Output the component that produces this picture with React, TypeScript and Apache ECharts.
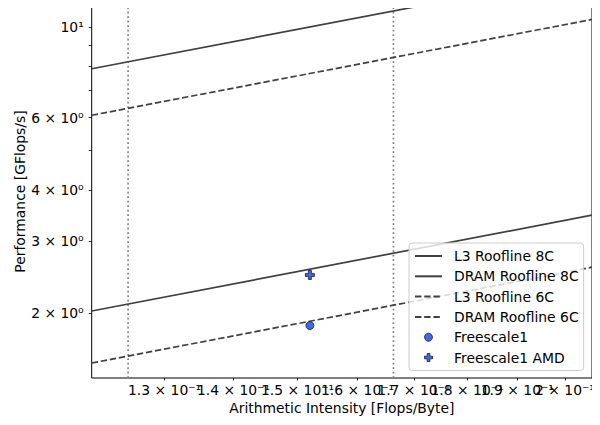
import React, { useEffect, useRef } from "react";
import * as echarts from "echarts";

// ---- data ----
const xRange = [0.1202, 0.2059];
const yRange = [1.39, 11.3];
const xTickValues = [0.13, 0.14, 0.15, 0.16, 0.17, 0.18, 0.19, 0.2];
const yTickValues = [2, 3, 4, 5, 6, 7, 8, 9, 10];
const yLabelValues = [2, 3, 4, 6, 10];
const rooflineNames = ["L3 Roofline 8C", "DRAM Roofline 8C", "L3 Roofline 6C", "DRAM Roofline 6C"];
const rooflineBandwidth = [65.7, 16.85, 50.6, 12.58];
const rooflineDashed = [false, false, true, true];
const coreBoundaries = [0.125, 0.1663];
const pointNames = ["Freescale1", "Freescale1 AMD"];
const pointX = [0.152, 0.152];
const pointY = [1.866, 2.48];

const FONT = "DejaVu Sans";
const FS = 13.9;
const LINE_COLOR = "#404040";
const POINT_COLOR = "#4169e1";
const POINT_EDGE = "#1a1a3a";
const PLUS_PATH = "path://M-1,-3H1V-1H3V1H1V3H-1V1H-3V-1H-1Z";

const lg = (v: number) => Math.log10(v);

export default function App() {
  const ref = useRef<HTMLDivElement>(null);
  useEffect(() => {
    if (!ref.current) return;
    const chart = echarts.init(ref.current, null, { renderer: "svg" });
    const x0 = lg(xRange[0]);
    const x1 = lg(xRange[1]);
    const y0 = lg(yRange[0]);
    const y1 = lg(yRange[1]);

    const series: any[] = [];
    coreBoundaries.forEach((b, i) => {
      series.push({
        name: "boundary" + i,
        type: "line",
        symbol: "none",
        silent: true,
        data: [
          [lg(b), y0],
          [lg(b), y1],
        ],
        lineStyle: { color: "#808080", width: 1.7, type: [1.7, 2.8] },
        z: 1,
      });
    });
    rooflineNames.forEach((n, i) => {
      const bw = rooflineBandwidth[i];
      series.push({
        name: n,
        type: "line",
        symbol: "none",
        data: [
          [x0, lg(bw * xRange[0])],
          [x1, lg(bw * xRange[1])],
        ],
        lineStyle: {
          color: LINE_COLOR,
          width: 1.7,
          type: rooflineDashed[i] ? [6.4, 2.8] : "solid",
        },
        itemStyle: { color: LINE_COLOR },
        z: 2,
      });
    });
    // measured points: marker-only line series (no connecting line)
    pointNames.forEach((n, i) => {
      series.push({
        name: n,
        type: "line",
        symbol: i === 0 ? "circle" : PLUS_PATH,
        symbolSize: i === 0 ? 8 : 9,
        showSymbol: true,
        data: [[lg(pointX[i]), lg(pointY[i])]],
        lineStyle: { width: 0, opacity: 0, color: "rgba(0,0,0,0)" },
        itemStyle: { color: POINT_COLOR, borderColor: POINT_EDGE, borderWidth: 0.8, opacity: 1 },
        z: 3,
      });
    });

    const xFmt = (v: number) => {
      const m = Math.round(Math.pow(10, v) * 1000) / 100;
      return `${m} × 10⁻¹`;
    };
    const yFmt = (v: number) => {
      const r = Math.round(Math.pow(10, v) * 1000) / 1000;
      if (Math.abs(r - 10) < 1e-6) return "10¹";
      return `${r} × 10⁰`;
    };

    const xLabelsA = xTickValues.filter((_, i) => i % 2 === 0).map(lg);
    const xLabelsB = xTickValues.filter((_, i) => i % 2 === 1).map(lg);
    const xLabelBase = {
      formatter: xFmt,
      fontFamily: FONT,
      fontSize: FS,
      color: "#000",
      margin: 5,
      showMinLabel: true,
      showMaxLabel: true,
      hideOverlap: false,
    };

    const hidden = { color: "rgba(0,0,0,0)", borderColor: "rgba(0,0,0,0)", borderWidth: 0 };
    const legendData = [
      ...rooflineNames.map((n) => ({ name: n, itemStyle: hidden })),
      ...pointNames.map((n) => ({
        name: n,
        itemStyle: { color: POINT_COLOR, borderColor: POINT_EDGE, borderWidth: 0.8 },
        lineStyle: { width: 0, opacity: 0, color: "rgba(0,0,0,0)" },
      })),
    ];

    chart.setOption({
      animation: false,
      textStyle: { fontFamily: FONT },
      grid: {
        left: 91.7,
        right: 8,
        top: 5,
        bottom: 47,
        show: true,
        borderColor: "#000",
        borderWidth: 1,
        backgroundColor: "transparent",
        outerBoundsMode: "none",
        containLabel: false,
      },
      xAxis: [
        {
          type: "value",
          min: x0,
          max: x1,
          name: "Arithmetic Intensity [Flops/Byte]",
          nameLocation: "middle",
          nameGap: 23,
          nameMoveOverlap: false,
          nameTextStyle: { fontFamily: FONT, fontSize: FS, color: "#000" },
          axisLine: { show: false },
          splitLine: { show: false },
          axisTick: {
            show: true,
            length: 2.5,
            customValues: xTickValues.map(lg),
            lineStyle: { color: "#000", width: 0.8 },
          },
          axisLabel: { ...xLabelBase, customValues: xLabelsA },
        },
        {
          type: "value",
          position: "bottom",
          min: x0,
          max: x1,
          axisLine: { show: false },
          splitLine: { show: false },
          axisTick: { show: false },
          axisLabel: { ...xLabelBase, customValues: xLabelsB },
        },
      ],
      yAxis: {
        type: "value",
        min: y0,
        max: y1,
        name: "Performance [GFlops/s]",
        nameLocation: "middle",
        nameGap: 64.5,
        nameRotate: 90,
        nameMoveOverlap: false,
        nameTextStyle: { fontFamily: FONT, fontSize: FS, color: "#000" },
        axisLine: { show: false },
        splitLine: { show: false },
        axisTick: {
          show: true,
          length: 3,
          customValues: yTickValues.map(lg),
          lineStyle: { color: "#000", width: 0.8 },
        },
        axisLabel: {
          customValues: yLabelValues.map(lg),
          formatter: yFmt,
          fontFamily: FONT,
          fontSize: FS,
          color: "#000",
          margin: 8,
          showMinLabel: true,
          showMaxLabel: true,
        },
      },
      legend: {
        data: legendData,
        orient: "vertical",
        left: 409,
        top: 243,
        itemWidth: 27,
        itemHeight: 10,
        itemGap: 6.3,
        padding: [6, 5, 6, 5],
        backgroundColor: "rgba(255,255,255,0.8)",
        borderColor: "#cccccc",
        borderWidth: 1,
        borderRadius: 3,
        formatter: (name: string) => `{s|}${name}`,
        textStyle: {
          fontFamily: FONT,
          fontSize: FS,
          color: "#000",
          rich: { s: { width: 7 } },
        },
        z: 5,
      },
      series,
    });
    return () => chart.dispose();
  }, []);
  return <div ref={ref} style={{ width: 600, height: 425, margin: -8 }} />;
}
